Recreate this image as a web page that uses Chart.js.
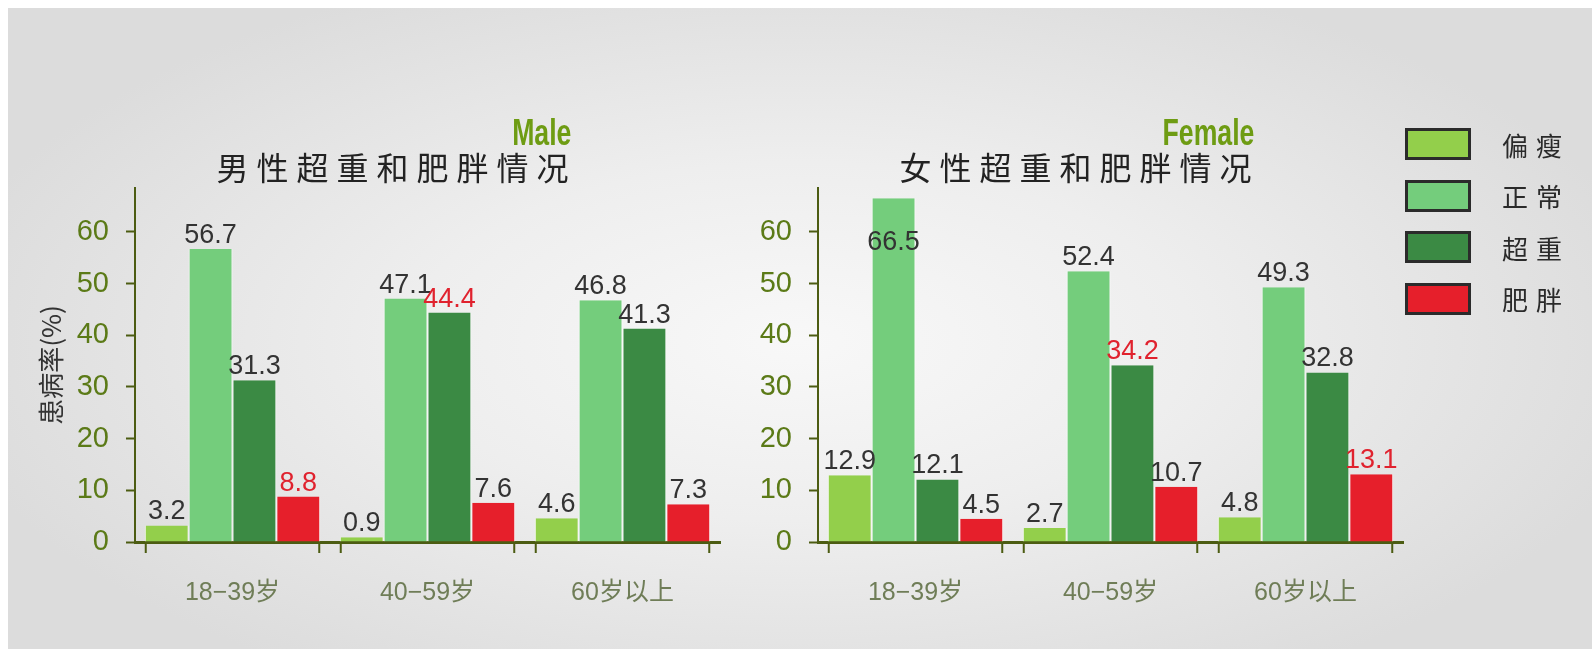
<!DOCTYPE html>
<html>
<head>
<meta charset="utf-8">
<script src="https://cdn.jsdelivr.net/npm/chart.js@4.4.1/dist/chart.umd.min.js"></script>
<style>
  html, body { margin: 0; padding: 0; width: 1592px; height: 649px; overflow: hidden; background: #fff; }
  #backdrop {
    position: absolute; left: 8px; top: 8px; right: 0; bottom: 0;
    background: radial-gradient(ellipse 55% 62% at 50% 52%, #f8f8f8 0%, #eeeeee 45%, #dcdcdc 100%);
  }
  canvas { position: absolute; top: 0; }
  #male { left: 0; }
  #female { left: 760px; }
  #legend { position: absolute; left: 1405px; top: 128px; }
  .item { display: flex; align-items: center; height: 32px; margin-bottom: 19.5px; }
  .swatch { width: 66px; height: 32px; box-sizing: border-box; border: 3px solid #2b2b2b; }
  .name { margin-left: 31px; font: 26px "Noto Sans CJK SC", sans-serif; letter-spacing: 8px; color: #2a2a2a; }
</style>
</head>
<body>
<div id="backdrop"></div>
<canvas id="male" width="760" height="649"></canvas>
<canvas id="female" width="832" height="649"></canvas>
<div id="legend"></div>
<script>
// 年龄组和分类
const ageGroups = ['18−39岁', '40−59岁', '60岁以上'];
const seriesNames = ['偏瘦', '正常', '超重', '肥胖'];
const seriesColors = ['#93cf4b', '#74cd7c', '#3b8a44', '#e61f2b'];

// 男性 (%)
const maleUnder = [3.2, 0.9, 4.6];
const maleNormal = [56.7, 47.1, 46.8];
const maleOver = [31.3, 44.4, 41.3];
const maleObese = [8.8, 7.6, 7.3];

// 女性 (%)
const femaleUnder = [12.9, 2.7, 4.8];
const femaleNormal = [66.5, 52.4, 49.3];
const femaleOver = [12.1, 34.2, 32.8];
const femaleObese = [4.5, 10.7, 13.1];

const yMax = 68.5;
const olive = '#4c5c12';
const peakRed = '#e0222e';

function makeDatasets(series) {
    return series.map((data, i) => ({
        label: seriesNames[i],
        data: data,
        backgroundColor: seriesColors[i],
        borderColor: 'rgba(255,255,255,0.9)',
        borderWidth: { left: 1, right: 1, top: 0, bottom: 0 },
        borderSkipped: false,
        markPeak: i >= 2 // 超重/肥胖 的最高值用红色标出
    }));
}

// 柱顶数值
const valueLabels = {
    id: 'valueLabels',
    afterDatasetsDraw(chart) {
        const ctx = chart.ctx;
        const top = chart.chartArea.top;
        ctx.save();
        ctx.font = '27px "Liberation Sans", Arial, sans-serif';
        ctx.textAlign = 'center';
        ctx.textBaseline = 'alphabetic';
        chart.data.datasets.forEach((ds, i) => {
            const peak = Math.max(...ds.data);
            chart.getDatasetMeta(i).data.forEach((bar, j) => {
                const v = ds.data[j];
                let y = bar.y - 6;
                if (y - 20 < top) y = bar.y + 52; // 上面放不下就放进柱子里
                ctx.fillStyle = ds.markPeak && v === peak ? peakRed : '#333';
                ctx.fillText(v.toFixed(1), bar.x, y);
            });
        });
        ctx.restore();
    }
};

// 每个年龄组两端的刻度
const groupTicks = {
    id: 'groupTicks',
    afterDatasetsDraw(chart) {
        const ctx = chart.ctx;
        const bottom = chart.chartArea.bottom;
        const first = chart.getDatasetMeta(0).data;
        const last = chart.getDatasetMeta(chart.data.datasets.length - 1).data;
        ctx.save();
        ctx.strokeStyle = olive;
        ctx.lineWidth = 2;
        ctx.beginPath();
        first.forEach((bar, j) => {
            const l = bar.x - bar.width / 2 + 1;
            const r = last[j].x + last[j].width / 2 - 1;
            ctx.moveTo(l, bottom); ctx.lineTo(l, bottom + 11);
            ctx.moveTo(r, bottom); ctx.lineTo(r, bottom + 11);
        });
        ctx.stroke();
        ctx.restore();
    }
};

// 英文小标题 + 中文标题
const headings = {
    id: 'headings',
    afterDraw(chart, args, opts) {
        const ctx = chart.ctx;
        const area = chart.chartArea;
        const cx = area.left + area.width * 0.44;
        ctx.save();
        ctx.font = '32px "Noto Sans CJK SC", sans-serif';
        ctx.letterSpacing = '8px';
        const w = ctx.measureText(opts.title).width - 8;
        ctx.fillStyle = '#222';
        ctx.textAlign = 'left';
        ctx.textBaseline = 'middle';
        ctx.fillText(opts.title, cx - w / 2, 168);
        ctx.letterSpacing = '0px';
        // 窄体粗字：横向压缩
        const squeeze = 0.74;
        ctx.font = 'bold 36px "Liberation Sans", Arial, sans-serif';
        ctx.fillStyle = '#6e9c13';
        ctx.textAlign = 'right';
        ctx.textBaseline = 'alphabetic';
        ctx.translate(cx + w / 2 + 3, 145);
        ctx.scale(squeeze, 1);
        ctx.fillText(opts.sub, 0, 0);
        ctx.restore();
    }
};

function makeChart(id, series, title, sub, yWidth, padRight, yTitle) {
    return new Chart(document.getElementById(id), {
        type: 'bar',
        data: { labels: ageGroups, datasets: makeDatasets(series) },
        plugins: [valueLabels, groupTicks, headings],
        options: {
            responsive: false,
            animation: false,
            events: [],
            layout: { padding: { top: 188, right: padRight, left: 0, bottom: 0 } },
            datasets: { bar: { categoryPercentage: 0.9, barPercentage: 1 } },
            plugins: {
                legend: { display: false },
                tooltip: { enabled: false },
                headings: { title: title, sub: sub }
            },
            scales: {
                x: {
                    grid: { display: true, drawOnChartArea: false, drawTicks: false, color: 'rgba(0,0,0,0)' },
                    border: { display: true, color: olive, width: 3 },
                    ticks: {
                        padding: 36,
                        color: '#6f7d57',
                        font: { family: '"Liberation Sans", "Noto Sans CJK SC", sans-serif', size: 25 }
                    },
                    afterFit: (scale) => { scale.height = 107; }
                },
                y: {
                    min: 0,
                    max: yMax,
                    grid: { drawOnChartArea: false, drawTicks: true, tickLength: 9, tickWidth: 2, tickColor: olive },
                    border: { display: true, color: olive, width: 2 },
                    ticks: {
                        stepSize: 10,
                        padding: 17,
                        color: '#5b7a17',
                        font: { family: '"Liberation Sans", Arial, sans-serif', size: 29 }
                    },
                    afterBuildTicks: (scale) => {
                        scale.ticks = scale.ticks.filter(t => t.value % 10 === 0);
                    },
                    title: {
                        display: !!yTitle,
                        text: yTitle || '',
                        color: '#333',
                        padding: { top: 36, bottom: 0 },
                        font: { family: '"Noto Sans CJK SC", sans-serif', size: 26 }
                    },
                    afterFit: (scale) => { scale.width = yWidth; }
                }
            }
        }
    });
}

makeChart('male', [maleUnder, maleNormal, maleOver, maleObese], '男性超重和肥胖情况', 'Male', 135, 40, '患病率(%)');
makeChart('female', [femaleUnder, femaleNormal, femaleOver, femaleObese], '女性超重和肥胖情况', 'Female', 58, 189, null);

// 图例
const legend = document.getElementById('legend');
seriesNames.forEach((name, i) => {
    const item = document.createElement('div');
    item.className = 'item';
    const sw = document.createElement('div');
    sw.className = 'swatch';
    sw.style.background = seriesColors[i];
    const txt = document.createElement('span');
    txt.className = 'name';
    txt.textContent = name;
    item.appendChild(sw);
    item.appendChild(txt);
    legend.appendChild(item);
});
</script>
</body>
</html>
